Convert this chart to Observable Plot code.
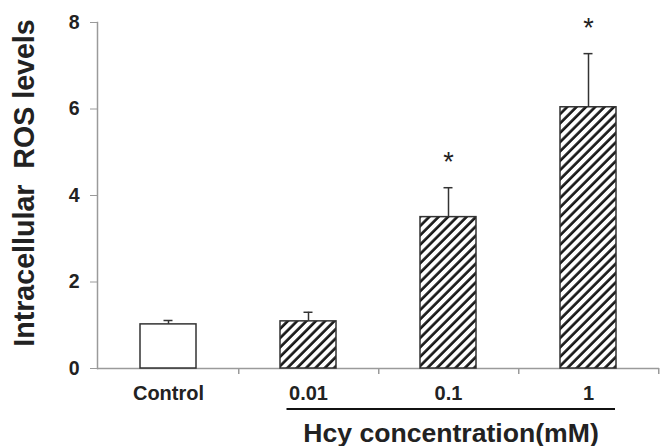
<!DOCTYPE html>
<html><head><meta charset="utf-8">
<script src="https://cdn.jsdelivr.net/npm/d3@7"></script>
<script src="https://cdn.jsdelivr.net/npm/@observablehq/plot@0.6"></script>
<style>body{margin:0;background:#fff}</style>
</head><body><div id="chart"></div>
<script>
// ---- data ----
const categories = ["Control", "0.01", "0.1", "1"];
const values = [1.02, 1.09, 3.5, 6.04];
const errors = [0.09, 0.21, 0.68, 1.24];
const significant = [false, false, true, true];
const yTicks = [0, 2, 4, 6, 8];
const yLabel = "Intracellular  ROS levels";
const xTitle = "Hcy concentration(mM)";
const groupFrom = "0.01", groupTo = "1";

// ---- layout ----
const W = 660, H = 446, mL = 97, mR = 1, mT = 22, mB = 78;
const step = (W - mL - mR) / categories.length;
const FONT = "'Liberation Sans', Arial, sans-serif";
const INK = "#222", AXIS = "#9a9a9a", EDGE = "#333";

const rows = categories.map((c, i) => ({
  cat: c, value: values[i], top: values[i] + errors[i],
  star: significant[i] ? "*" : "", treated: i > 0
}));

const hatchDefs = () => {
  const g = d3.create("svg:g");
  const p = g.append("defs").append("pattern")
    .attr("id", "hatch").attr("patternUnits", "userSpaceOnUse")
    .attr("width", 6.6).attr("height", 6.6)
    .attr("patternTransform", "rotate(45)");
  p.append("rect").attr("width", 6.6).attr("height", 6.6).attr("fill", "white");
  p.append("line").attr("x1", 1.5).attr("x2", 1.5).attr("y1", 0).attr("y2", 6.6)
    .attr("stroke", "#1a1a1a").attr("stroke-width", 2.7);
  return g.node();
};

const chart = Plot.plot({
  width: W, height: H,
  marginLeft: mL, marginRight: mR, marginTop: mT, marginBottom: mB,
  style: {fontFamily: FONT, background: "white", overflow: "visible"},
  x: {domain: categories, paddingInner: 0.6, paddingOuter: 0.3},
  y: {domain: [0, 8]},
  marks: [
    hatchDefs,
    Plot.axisY({ticks: yTicks, tickSize: 7, tickPadding: 11, stroke: AXIS, fill: INK,
      fontSize: 19.5, fontWeight: "bold", label: null}),
    Plot.axisX({tickSize: 0, tickPadding: 17, fill: INK, fontSize: 20, fontWeight: "bold", label: null}),
    Plot.frame({anchor: "left", stroke: AXIS, strokeWidth: 1.5}),
    Plot.ruleY([0], {stroke: AXIS, strokeWidth: 1.5}),
    Plot.ruleX(rows, {x: "cat", y1: 0, y2: 0, dx: step / 2, insetBottom: -6, stroke: AXIS, strokeWidth: 1.5}),
    Plot.barY(rows.filter(d => !d.treated), {x: "cat", y: "value", fill: "white", stroke: EDGE, strokeWidth: 1.5}),
    Plot.barY(rows.filter(d => d.treated), {x: "cat", y: "value", fill: "url(#hatch)", stroke: EDGE, strokeWidth: 1.5}),
    Plot.ruleX(rows, {x: "cat", y1: "value", y2: "top", stroke: EDGE, strokeWidth: 1.5}),
    Plot.tickY(rows, {x: "cat", y: "top", insetLeft: 23.5, insetRight: 23.5, stroke: EDGE, strokeWidth: 1.5}),
    Plot.text(rows, {x: "cat", y: "top", text: "star", dy: -25, fontSize: 27, fill: INK}),
    Plot.ruleY([{y: 0, from: groupFrom, to: groupTo}], {y: "y", x1: "from", x2: "to", dy: 40.5, insetLeft: 6.5, insetRight: 1, stroke: "#111", strokeWidth: 2}),
    Plot.text([{t: xTitle, at: "0.1"}], {x: "at", y: () => 0, text: "t", dx: 2.5, dy: 64.5, fontSize: 26.6, fontWeight: "bold", fill: INK}),
    Plot.text([yLabel], {text: d => d, frameAnchor: "left", textAnchor: "middle", rotate: -90, dx: -73, dy: -12.5, fontSize: 28.6, fontWeight: "bold", fill: INK})
  ]
});
document.getElementById("chart").append(chart);
</script>
</body></html>
